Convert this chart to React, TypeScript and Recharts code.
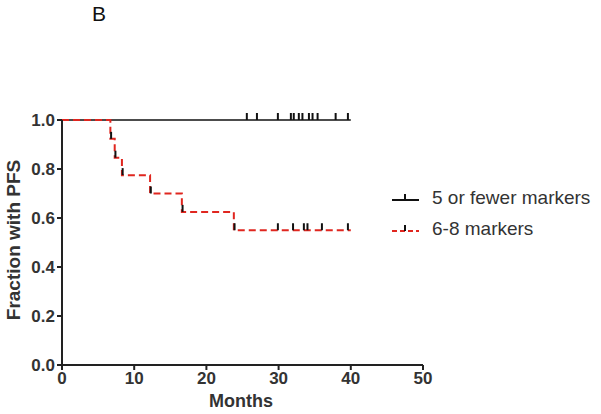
import { ComposedChart, Line, Scatter, XAxis, YAxis, Label } from "recharts";

// Kaplan-Meier steps (months, fraction with PFS)
const fewerTimes = [0, 40];
const fewerSurv = [1, 1];
const fewerCensorTimes = [25.6, 27, 29.9, 31.7, 32.1, 32.8, 33.3, 34.2, 34.7, 35.4, 37.9, 39.6];

const moreTimes = [0, 6.7, 7.3, 8.3, 12.2, 16.6, 23.8, 40];
const moreSurv = [1, 0.923, 0.846, 0.775, 0.7, 0.625, 0.55, 0.55];
const moreCensorTimes = [6.8, 7.4, 8.4, 12.3, 16.7, 23.9, 29.9, 32, 33.5, 34, 36, 39.6];
const moreCensorSurv = [0.923, 0.846, 0.775, 0.7, 0.625, 0.55, 0.55, 0.55, 0.55, 0.55, 0.55, 0.55];

const xTicks = [0, 10, 20, 30, 40, 50];
const yTicks = [0, 0.2, 0.4, 0.6, 0.8, 1.0];

const fewerData = fewerTimes.map((t, i) => ({ t, s: fewerSurv[i] }));
const moreData = moreTimes.map((t, i) => ({ t, s: moreSurv[i] }));
const fewerCensor = fewerCensorTimes.map((t) => ({ t, s: 1 }));
const moreCensor = moreCensorTimes.map((t, i) => ({ t, s: moreCensorSurv[i] }));

const RED = "#e0261f";
const FONT = "'Liberation Sans', Arial, sans-serif";

const CensorTick = (props: any) => {
  const { cx, cy } = props;
  return <line x1={cx} x2={cx} y1={cy} y2={cy - 7} stroke="#111" strokeWidth={2} />;
};

function LegendRow({ color, dashed, label }: { color: string; dashed?: boolean; label: string }) {
  return (
    <div style={{ display: "flex", alignItems: "center", height: 31 }}>
      <svg width={32} height={14} style={{ marginRight: 10 }}>
        <line x1={2} x2={29} y1={9} y2={9} stroke={color} strokeWidth={2} strokeDasharray={dashed ? "5 3" : undefined} />
        <line x1={15} x2={15} y1={9} y2={3} stroke="#111" strokeWidth={2} />
      </svg>
      <span>{label}</span>
    </div>
  );
}

export default function App() {
  return (
    <div style={{ position: "absolute", left: 0, top: 0, width: 601, height: 414, background: "#fff", fontFamily: FONT }}>
      <div style={{ position: "absolute", left: 92, top: 2, fontSize: 21, color: "#111" }}>B</div>
      <ComposedChart width={601} height={414} margin={{ top: 120, right: 178, bottom: 0, left: 0 }}>
        <XAxis
          type="number"
          dataKey="t"
          domain={[0, 50]}
          ticks={xTicks}
          height={49}
          stroke="#222"
          strokeWidth={2}
          tickSize={5}
          tick={{ fill: "#333", fontSize: 17, fontWeight: "bold", fontFamily: FONT }}
          allowDuplicatedCategory={false}
        >
          <Label
            content={() => (
              <text x={241} y={407} textAnchor="middle" fontSize={18} fontWeight="bold" fill="#333" fontFamily={FONT}>
                Months
              </text>
            )}
          />
        </XAxis>
        <YAxis
          type="number"
          dataKey="s"
          domain={[0, 1]}
          ticks={yTicks}
          width={62}
          stroke="#222"
          strokeWidth={2}
          tickSize={5}
          tickFormatter={(v: number) => v.toFixed(1)}
          tick={{ fill: "#333", fontSize: 17, fontWeight: "bold", fontFamily: FONT }}
        >
          <Label
            content={() => (
              <text
                x={20}
                y={240}
                transform="rotate(-90 20 240)"
                textAnchor="middle"
                fontSize={19}
                fontWeight="bold"
                fill="#333"
                fontFamily={FONT}
              >
                Fraction with PFS
              </text>
            )}
          />
        </YAxis>
        <Line data={fewerData} dataKey="s" type="stepAfter" stroke="#111" strokeWidth={1.5} dot={false} isAnimationActive={false} />
        <Line
          data={moreData}
          dataKey="s"
          type="stepAfter"
          stroke={RED}
          strokeWidth={2}
          strokeDasharray="7 4"
          dot={false}
          isAnimationActive={false}
        />
        <Scatter data={fewerCensor} dataKey="s" shape={<CensorTick />} isAnimationActive={false} />
        <Scatter data={moreCensor} dataKey="s" shape={<CensorTick />} isAnimationActive={false} />
      </ComposedChart>
      <div style={{ position: "absolute", left: 390, top: 182, fontSize: 19, color: "#333" }}>
        <LegendRow color="#111" label="5 or fewer markers" />
        <LegendRow color={RED} dashed label="6-8 markers" />
      </div>
    </div>
  );
}
